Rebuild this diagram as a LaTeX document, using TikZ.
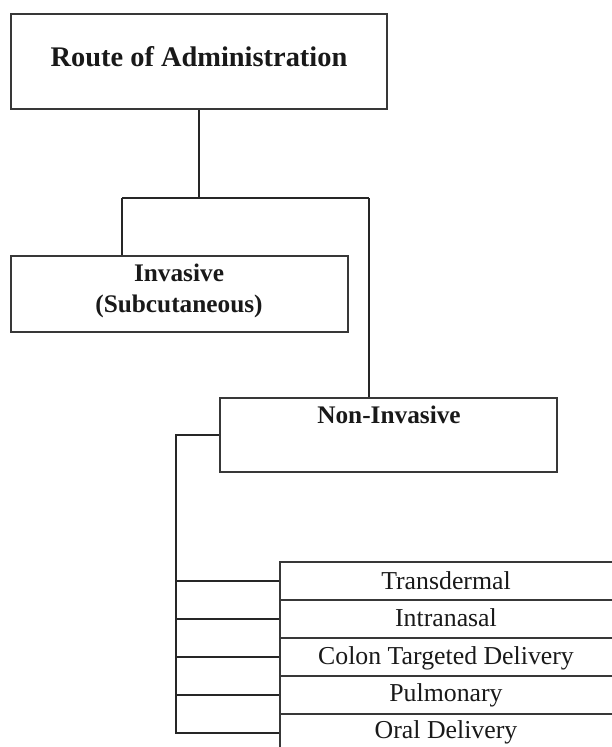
\documentclass[tikz,border=0pt]{standalone}
\usepackage{fontspec}
\setmainfont{Liberation Serif}
\begin{document}
\begin{tikzpicture}[x=1pt,y=-1pt,
  box/.style={draw=black!78,line width=1.3pt,rectangle,inner sep=0pt},
  conn/.style={draw=black!85,line width=1.2pt},
  ttl/.style={font=\fontsize{28.4}{31}\selectfont\bfseries,anchor=base,inner sep=0pt,text=black!90},
  bld/.style={font=\fontsize{25.3}{28}\selectfont\bfseries,anchor=base,inner sep=0pt,text=black!90},
  reg/.style={font=\fontsize{25.8}{28}\selectfont,anchor=base,inner sep=0pt,text=black!90}]
\useasboundingbox (0,0) rectangle (612,747);
% boxes
\node[box,minimum width=376pt,minimum height=95pt] (route) at (199,61.5) {};
\node[box,minimum width=337pt,minimum height=76pt] (inv) at (179.5,294) {};
\node[box,minimum width=337pt,minimum height=74pt] (non) at (388.5,435) {};
\foreach \i/\y in {1/581,2/619,3/657,4/695,5/733}{
  \node[box,minimum width=340pt,minimum height=38pt] (rb\i) at (450,\y) {};
}
% texts
\node[ttl] (routet) at (199,66.5) {Route of Administration};
\node[bld] (invt1) at (179,281.7) {Invasive};
\node[bld] (invt2) at (179,312.3) {(Subcutaneous)};
\node[bld] (nont) at (389,423.7) {Non-Invasive};
\node[reg] (t1) at (446,589.3) {Transdermal};
\node[reg] (t2) at (446,626.7) {Intranasal};
\node[reg] (t3) at (446,664.3) {Colon Targeted Delivery};
\node[reg] (t4) at (446,701.7) {Pulmonary};
\node[reg] (t5) at (446,738.7) {Oral Delivery};
% connectors
\coordinate (jl) at (122,198);
\coordinate (jr) at (369,198);
\coordinate (sp) at (176,0);
\draw[conn] (route.south) -- (route.south |- jl);
\draw[conn] (jl) -- (jr);
\draw[conn] (jl) -- (jl |- inv.north);
\draw[conn] (jr) -- (jr |- non.north);
\draw[conn] (non.west) -- (non.west -| sp) -- (sp |- rb5.west) -- (rb5.west);
\foreach \i in {1,2,3,4}{
  \draw[conn] (sp |- rb\i.west) -- (rb\i.west);
}
\end{tikzpicture}
\end{document}
